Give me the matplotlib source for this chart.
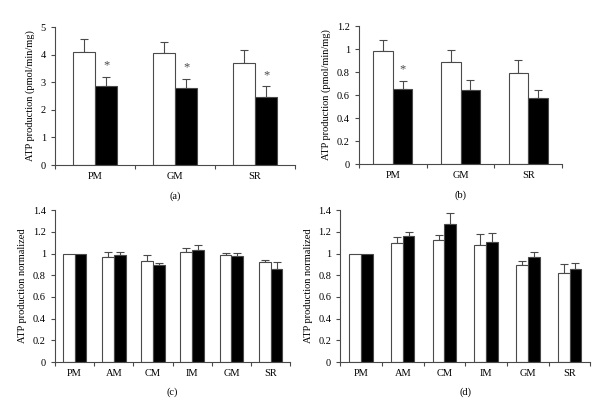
import matplotlib
matplotlib.use("Agg")
import matplotlib.pyplot as plt
import numpy as np

plt.rcParams.update({
    "font.family": ["Liberation Serif", "DejaVu Serif"],
    "font.size": 7.5,
})

INK = "#4a4a4a"

# ---- data ----
cats_ab = ["PM", "GM", "SR"]
a_white = [4.08, 4.05, 3.70]
a_white_err = [0.50, 0.40, 0.48]
a_black = [2.85, 2.78, 2.48]
a_black_err = [0.35, 0.34, 0.37]
a_star = [True, True, True]

b_white = [0.98, 0.885, 0.795]
b_white_err = [0.095, 0.105, 0.11]
b_black = [0.655, 0.64, 0.57]
b_black_err = [0.065, 0.09, 0.075]
b_star = [True, False, False]

cats_cd = ["PM", "AM", "CM", "IM", "GM", "SR"]
c_white = [1.0, 0.965, 0.935, 1.01, 0.99, 0.92]
c_white_err = [0.0, 0.045, 0.05, 0.04, 0.015, 0.02]
c_black = [1.0, 0.985, 0.89, 1.03, 0.975, 0.86]
c_black_err = [0.0, 0.025, 0.02, 0.045, 0.03, 0.065]

d_white = [1.0, 1.10, 1.12, 1.08, 0.89, 0.82]
d_white_err = [0.0, 0.055, 0.055, 0.10, 0.04, 0.085]
d_black = [1.0, 1.165, 1.275, 1.11, 0.97, 0.86]
d_black_err = [0.0, 0.035, 0.10, 0.08, 0.045, 0.055]


def panel(fig, rect, cats, white, werr, black, berr, ylim, yticks,
          ylabel, tag, width, stars=None, star_y=None, tag_y=-0.2):
    ax = fig.add_axes(rect)
    n = len(cats)
    x = np.arange(n) + 0.5
    for xs, vals, errs, fc in ((x - width / 2, white, werr, "white"),
                               (x + width / 2, black, berr, "black")):
        ax.bar(xs, vals, width, color=fc, edgecolor=INK, lw=0.8, zorder=2)
        errs = np.asarray(errs)
        m = errs > 0
        ax.errorbar(xs[m], np.asarray(vals)[m],
                    yerr=[np.zeros(m.sum()), errs[m]], fmt="none",
                    ecolor=INK, elinewidth=0.8, capsize=3, capthick=0.8,
                    zorder=1)
    if stars is not None:
        for xi, s, b, e in zip(x, stars, black, berr):
            if s:
                ax.text(xi + width / 2, b + e + star_y, "*", ha="center",
                        va="bottom", fontsize=9, color=INK)
    ax.set_xlim(0, n)
    ax.set_ylim(*ylim)
    ax.set_xticks(np.arange(n + 1))
    ax.set_xticklabels([])
    ax.set_xticks(x, minor=True)
    ax.set_xticklabels(cats, minor=True)
    ax.tick_params(axis="x", which="major", length=3, direction="out",
                   color=INK, width=0.8)
    ax.tick_params(axis="x", which="minor", length=0, pad=5)
    ax.set_yticks(yticks)
    ax.set_yticklabels([f"{t:g}" for t in yticks])
    ax.tick_params(axis="y", length=3, direction="out", color=INK, width=0.8)
    for s in ("top", "right"):
        ax.spines[s].set_visible(False)
    for s in ("left", "bottom"):
        ax.spines[s].set_color(INK)
        ax.spines[s].set_linewidth(0.8)
    ax.set_ylabel(ylabel, fontsize=7.5)
    ax.text(0.5, tag_y, tag, transform=ax.transAxes,
            ha="center", va="top", fontsize=7.5)
    return ax


fig = plt.figure(figsize=(6.0, 4.15), dpi=100)

panel(fig, [0.0917, 0.6024, 0.40, 0.3325], cats_ab, a_white, a_white_err,
      a_black, a_black_err, (0, 5), [0, 1, 2, 3, 4, 5],
      "ATP production (pmol/min/mg)", "(a)", 0.275,
      stars=a_star, star_y=0.2, tag_y=-0.19)
panel(fig, [0.598, 0.6048, 0.339, 0.3325], cats_ab, b_white, b_white_err,
      b_black, b_black_err, (0, 1.2), [0, 0.2, 0.4, 0.6, 0.8, 1, 1.2],
      "ATP production (pmol/min/mg)", "(b)", 0.29,
      stars=b_star, star_y=0.05, tag_y=-0.19)
panel(fig, [0.0917, 0.1277, 0.392, 0.366], cats_cd, c_white, c_white_err,
      c_black, c_black_err, (0, 1.4), [0, 0.2, 0.4, 0.6, 0.8, 1, 1.2, 1.4],
      "ATP production normalized", "(c)", 0.3, tag_y=-0.165)
panel(fig, [0.567, 0.1277, 0.417, 0.366], cats_cd, d_white, d_white_err,
      d_black, d_black_err, (0, 1.4), [0, 0.2, 0.4, 0.6, 0.8, 1, 1.2, 1.4],
      "ATP production normalized", "(d)", 0.28, tag_y=-0.165)

fig.savefig("out.png", dpi=100)
